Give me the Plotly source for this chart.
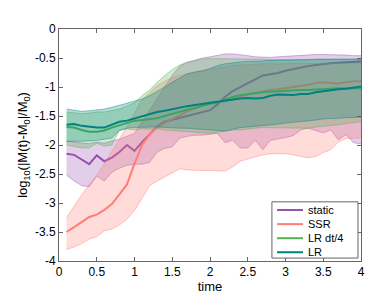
import plotly.graph_objects as go

t = [round(0.1 * i, 1) for i in range(1, 41)]

static_mean = [-2.15, -2.17, -2.25, -2.33, -2.18, -2.28, -2.22, -2.12, -2.00, -2.10,
               -1.95, -1.82, -1.68, -1.60, -1.56, -1.53, -1.50, -1.47, -1.44, -1.40,
               -1.30, -1.17, -1.07, -1.00, -0.93, -0.86, -0.80, -0.78, -0.76, -0.72,
               -0.69, -0.66, -0.64, -0.62, -0.60, -0.59, -0.58, -0.57, -0.57, -0.56]
static_upper = [-1.93, -1.95, -1.97, -1.98, -1.95, -1.97, -1.93, -1.90, -1.85, -1.80,
                -1.60, -1.40, -1.20, -1.00, -0.80, -0.64, -0.58, -0.54, -0.50, -0.48,
                -0.45, -0.43, -0.43, -0.44, -0.46, -0.48, -0.49, -0.49, -0.48, -0.47,
                -0.46, -0.45, -0.44, -0.44, -0.44, -0.44, -0.45, -0.45, -0.46, -0.46]
static_lower = [-2.52, -2.62, -2.70, -2.72, -2.54, -2.62, -2.47, -2.40, -2.35, -2.33,
                -2.33, -2.30, -2.12, -2.06, -2.03, -1.88, -1.85, -1.83, -1.83, -1.82,
                -1.80, -1.96, -1.92, -2.05, -2.05, -1.92, -2.08, -1.92, -1.90, -1.87,
                -1.84, -1.74, -1.71, -1.75, -1.79, -1.74, -1.91, -1.82, -1.96, -1.98]

ssr_mean = [-3.50, -3.42, -3.33, -3.24, -3.20, -3.12, -3.02, -2.85, -2.68, -2.32,
            -2.00, -1.82, -1.70, -1.62, -1.55, -1.48, -1.42, -1.37, -1.32, -1.27,
            -1.26, -1.24, -1.20, -1.16, -1.13, -1.10, -1.07, -1.05, -1.04, -1.02,
            -1.00, -0.99, -0.96, -0.93, -0.92, -0.93, -0.94, -0.92, -0.90, -0.90]
ssr_upper = [-3.25, -3.05, -2.86, -2.68, -2.52, -2.32, -2.12, -1.90, -1.68, -1.45,
             -1.22, -1.10, -0.98, -0.90, -0.84, -0.80, -0.77, -0.74, -0.72, -0.70,
             -0.67, -0.65, -0.63, -0.62, -0.61, -0.61, -0.60, -0.60, -0.60, -0.60,
             -0.60, -0.60, -0.60, -0.60, -0.59, -0.59, -0.59, -0.59, -0.59, -0.59]
ssr_lower = [-3.80, -3.76, -3.70, -3.62, -3.58, -3.48, -3.45, -3.38, -3.28, -3.13,
             -2.92, -2.70, -2.62, -2.55, -2.48, -2.41, -2.43, -2.44, -2.44, -2.44,
             -2.45, -2.45, -2.38, -2.28, -2.24, -2.20, -2.17, -2.15, -2.15, -2.15,
             -2.17, -2.20, -2.22, -2.20, -2.13, -2.08, -1.95, -1.89, -1.88, -1.88]

lrdt4_mean = [-1.69, -1.70, -1.74, -1.77, -1.77, -1.75, -1.70, -1.66, -1.63, -1.58,
              -1.57, -1.56, -1.54, -1.50, -1.46, -1.42, -1.39, -1.36, -1.32, -1.29,
              -1.27, -1.22, -1.17, -1.14, -1.12, -1.11, -1.09, -1.08, -1.07, -1.06,
              -1.06, -1.05, -1.05, -1.04, -1.03, -1.03, -1.02, -1.02, -1.02, -1.02]
lrdt4_upper = [-1.43, -1.44, -1.46, -1.45, -1.43, -1.43, -1.40, -1.38, -1.33, -1.27,
               -1.15, -1.05, -0.92, -0.80, -0.70, -0.62, -0.57, -0.54, -0.52, -0.51,
               -0.51, -0.51, -0.51, -0.51, -0.52, -0.52, -0.52, -0.53, -0.53, -0.53,
               -0.53, -0.52, -0.52, -0.52, -0.52, -0.52, -0.52, -0.52, -0.52, -0.52]
lrdt4_lower = [-2.00, -2.02, -2.05, -2.05, -1.97, -2.02, -2.00, -1.75, -1.72, -1.74,
               -1.72, -1.73, -1.72, -1.74, -1.75, -1.76, -1.77, -1.78, -1.80, -1.80,
               -1.78, -1.76, -1.74, -1.74, -1.72, -1.71, -1.70, -1.70, -1.70, -1.70,
               -1.71, -1.71, -1.71, -1.69, -1.68, -1.66, -1.65, -1.63, -1.61, -1.60]

lr_mean = [-1.65, -1.64, -1.67, -1.69, -1.70, -1.70, -1.65, -1.60, -1.58, -1.54,
           -1.50, -1.47, -1.43, -1.41, -1.38, -1.35, -1.33, -1.31, -1.29, -1.27,
           -1.25, -1.24, -1.22, -1.20, -1.19, -1.20, -1.19, -1.15, -1.13, -1.13,
           -1.14, -1.12, -1.12, -1.09, -1.07, -1.05, -1.04, -1.03, -1.01, -0.99]
lr_upper = [-1.38, -1.40, -1.42, -1.41, -1.40, -1.38, -1.35, -1.32, -1.28, -1.24,
            -1.21, -1.15, -1.08, -1.00, -0.92, -0.84, -0.77, -0.74, -0.72, -0.68,
            -0.63, -0.60, -0.58, -0.57, -0.56, -0.56, -0.55, -0.54, -0.54, -0.53,
            -0.53, -0.53, -0.53, -0.52, -0.52, -0.52, -0.52, -0.52, -0.52, -0.52]
lr_lower = [-1.94, -1.94, -1.94, -1.93, -1.92, -1.90, -1.88, -1.75, -1.71, -1.70,
            -1.69, -1.69, -1.69, -1.70, -1.70, -1.71, -1.71, -1.72, -1.73, -1.74,
            -1.75, -1.76, -1.73, -1.70, -1.69, -1.68, -1.67, -1.66, -1.64, -1.62,
            -1.61, -1.60, -1.58, -1.57, -1.55, -1.55, -1.54, -1.53, -1.52, -1.52]

series_names = ["static", "SSR", "LR dt/4", "LR"]
series = [
    (static_mean, static_upper, static_lower, (150, 80, 175)),
    (ssr_mean, ssr_upper, ssr_lower, (255, 125, 120)),
    (lrdt4_mean, lrdt4_upper, lrdt4_lower, (80, 180, 80)),
    (lr_mean, lr_upper, lr_lower, (0, 128, 128)),
]

fig = go.Figure()
for name, (m, up, lo, c) in zip(series_names, series):
    r, g, b = c
    edge = f"rgba({r},{g},{b},0.55)"
    fig.add_trace(go.Scatter(x=t, y=up, mode="lines", line=dict(color=edge, width=0.8),
                             showlegend=False, hoverinfo="skip"))
    fig.add_trace(go.Scatter(x=t, y=lo, mode="lines", line=dict(color=edge, width=0.8),
                             fill="tonexty", fillcolor=f"rgba({r},{g},{b},0.28)",
                             showlegend=False, hoverinfo="skip"))
    fig.add_trace(go.Scatter(x=t, y=m, mode="lines", name=name, showlegend=False,
                             line=dict(color=f"rgb({r},{g},{b})", width=2)))

# compact legend box (layout decoration in paper coordinates)
shapes = [dict(type="rect", xref="paper", yref="paper", x0=0.705, x1=0.990,
               y0=0.0126, y1=0.255, line=dict(color="#666", width=1),
               fillcolor="white", layer="above")]
annotations = []
row_y = [0.2197, 0.159, 0.0983, 0.0377]
for (name, (_, _, _, c)), yy in zip(zip(series_names, series), row_y):
    r, g, b = c
    shapes.append(dict(type="line", xref="paper", yref="paper", x0=0.722, x1=0.808,
                       y0=yy, y1=yy, line=dict(color=f"rgb({r},{g},{b})", width=2),
                       layer="above"))
    annotations.append(dict(text=name, xref="paper", yref="paper", x=0.822, y=yy,
                            xanchor="left", yanchor="middle", showarrow=False,
                            borderpad=0, font=dict(size=11, color="#000")))

axis_common = dict(showline=True, linecolor="#666", linewidth=1, mirror="ticks",
                   ticks="inside", ticklen=4, tickcolor="#666", showgrid=False,
                   zeroline=False, tickfont=dict(size=12, color="#000"))

fig.update_layout(
    width=390, height=293,
    margin=dict(l=51, r=37, t=21, b=33),
    paper_bgcolor="white", plot_bgcolor="white",
    font=dict(family="Liberation Sans, Arial, sans-serif", size=12, color="#000"),
    xaxis=dict(range=[0, 4], tickvals=[0, 0.5, 1, 1.5, 2, 2.5, 3, 3.5, 4],
               ticktext=["0", "0.5", "1", "1.5", "2", "2.5", "3", "3.5", "4"],
               title=dict(text="time", standoff=0, font=dict(size=13)), **axis_common),
    yaxis=dict(range=[-4, 0], tickvals=[-4, -3.5, -3, -2.5, -2, -1.5, -1, -0.5, 0],
               ticktext=["-4", "-3.5", "-3", "-2.5", "-2", "-1.5", "-1", "-0.5", "0"],
               title=dict(text="log<sub>10</sub>(|M(t)-M<sub>0</sub>|/M<sub>0</sub>)",
                          standoff=4, font=dict(size=13)), **axis_common),
    shapes=shapes,
    annotations=annotations,
    showlegend=False,
)

fig.write_html("out.html")
